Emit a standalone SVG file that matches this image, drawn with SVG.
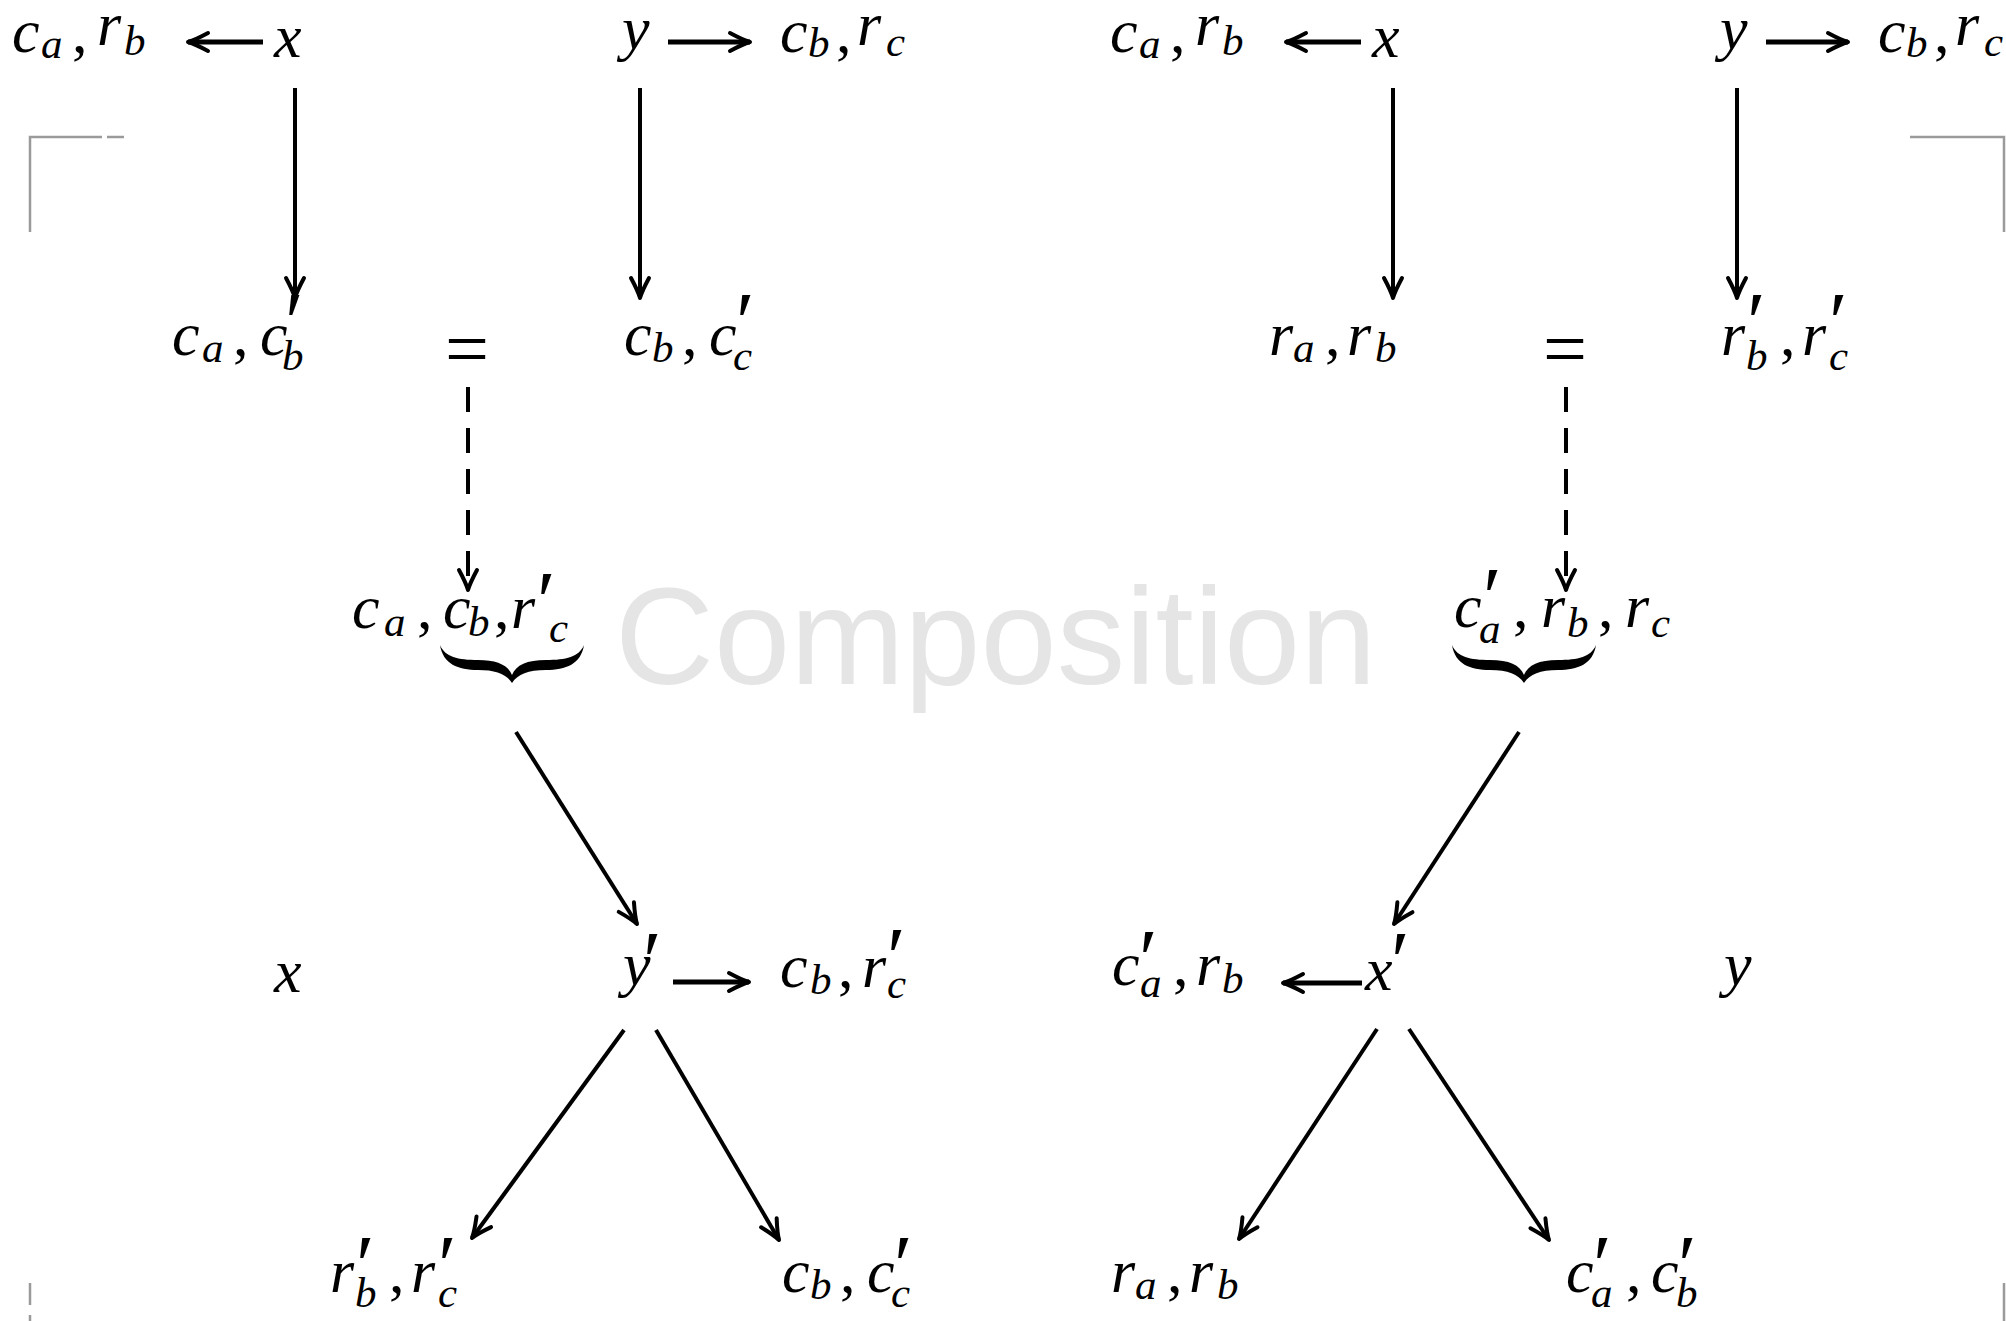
<svg xmlns="http://www.w3.org/2000/svg" width="2006" height="1321" viewBox="0 0 2006 1321">
<style>
.s{font-size:43px}
.u{font-style:normal}
.p{font-style:normal;font-size:85px}
.c line{stroke:#000;stroke-width:4;marker-end:url(#arr)}
.c .h{stroke-width:5}
.c .d{stroke-dasharray:25 16}
.g path{fill:none;stroke:#9a9a9a;stroke-width:2.5}
.br{fill:#000}
</style>
<defs>
<marker id="arr" markerUnits="userSpaceOnUse" markerWidth="28" markerHeight="24" viewBox="-24 -12 28 24" refX="0" refY="0" orient="auto" overflow="visible">
<path d="M-20,-9 Q-7,-2 0,0 Q-7,2 -20,9" fill="none" stroke="#000" stroke-width="4" stroke-linecap="round" stroke-linejoin="round"/>
</marker>
<path id="brace" d="M440,645 C443,664 458,670 478,670 C496,670 506,674 512,683 C518,674 528,670 546,670 C566,670 581,664 584,645 C579,657 566,660 546,660 C527,660 516,665 512,675 C508,665 497,660 478,660 C458,660 445,657 440,645 Z"/>
</defs>
<rect width="2006" height="1321" fill="#fff"/>
<text id="watermark" x="615" y="684" font-family="Liberation Sans" font-size="137" fill="#e5e5e5">Composition</text>
<g class="g" id="marks">
<path d="M30,232 V137 H102 M107,137 H124"/>
<path d="M1910,137 H2004 V232"/>
<path d="M30,1283 V1305 M30,1315 V1321"/>
<path d="M2004,1283 V1321"/>
</g>
<g class="c" id="connectors">
<line class="h" x1="263" y1="42" x2="188" y2="42"/>
<line class="h" x1="668" y1="42" x2="750" y2="42"/>
<line class="h" x1="1361" y1="42" x2="1286" y2="42"/>
<line class="h" x1="1766" y1="42" x2="1848" y2="42"/>
<line x1="295" y1="88" x2="295" y2="298"/>
<line x1="640" y1="88" x2="640" y2="298"/>
<line x1="1393" y1="88" x2="1393" y2="298"/>
<line x1="1737" y1="88" x2="1737" y2="298"/>
<line class="d" x1="468" y1="387" x2="468" y2="590"/>
<line class="d" x1="1566" y1="387" x2="1566" y2="590"/>
<line x1="516" y1="732" x2="637" y2="924"/>
<line x1="1519" y1="732" x2="1394" y2="924"/>
<line class="h" x1="673" y1="982" x2="749" y2="982"/>
<line class="h" x1="1362" y1="983" x2="1283" y2="983"/>
<line x1="624" y1="1030" x2="472" y2="1238"/>
<line x1="656" y1="1030" x2="779" y2="1240"/>
<line x1="1377" y1="1029" x2="1239" y2="1239"/>
<line x1="1409" y1="1029" x2="1549" y2="1240"/>
</g>
<g id="nodes">
<g id="L-ca-rb-top"><text font-family="Liberation Serif" font-style="italic" font-size="62"><tspan x="12" y="52">c</tspan><tspan class="s" x="41" y="58">a</tspan><tspan class="u" x="72" y="52">,</tspan><tspan x="97" y="45">r</tspan><tspan class="s" x="124" y="55">b</tspan></text></g>
<g id="L-x-top"><text font-family="Liberation Serif" font-style="italic" font-size="62" x="274" y="57">x</text></g>
<g id="L-y-top"><text font-family="Liberation Serif" font-style="italic" font-size="62" x="622" y="49">y</text></g>
<g id="L-cb-rc-top"><text font-family="Liberation Serif" font-style="italic" font-size="62"><tspan x="780" y="52">c</tspan><tspan class="s" x="808" y="57">b</tspan><tspan class="u" x="836" y="52">,</tspan><tspan x="857" y="45">r</tspan><tspan class="s" x="886" y="56">c</tspan></text></g>
<g id="R-ca-rb-top"><text font-family="Liberation Serif" font-style="italic" font-size="62"><tspan x="1110" y="52">c</tspan><tspan class="s" x="1139" y="58">a</tspan><tspan class="u" x="1170" y="52">,</tspan><tspan x="1195" y="45">r</tspan><tspan class="s" x="1222" y="55">b</tspan></text></g>
<g id="R-x-top"><text font-family="Liberation Serif" font-style="italic" font-size="62" x="1372" y="57">x</text></g>
<g id="R-y-top"><text font-family="Liberation Serif" font-style="italic" font-size="62" x="1720" y="49">y</text></g>
<g id="R-cb-rc-top"><text font-family="Liberation Serif" font-style="italic" font-size="62"><tspan x="1878" y="52">c</tspan><tspan class="s" x="1906" y="57">b</tspan><tspan class="u" x="1934" y="52">,</tspan><tspan x="1955" y="45">r</tspan><tspan class="s" x="1984" y="56">c</tspan></text></g>
<g id="L-ca-cb1"><text font-family="Liberation Serif" font-style="italic" font-size="62"><tspan x="172" y="355">c</tspan><tspan class="s" x="202" y="362">a</tspan><tspan class="u" x="233" y="355">,</tspan><tspan x="260" y="355">c</tspan><tspan class="p" x="285" y="351">′</tspan><tspan class="s" x="282" y="370">b</tspan></text></g>
<g id="L-eq"><text font-family="Liberation Serif" x="467" y="375" font-size="78" text-anchor="middle">=</text></g>
<g id="L-cb-cc1"><text font-family="Liberation Serif" font-style="italic" font-size="62"><tspan x="624" y="355">c</tspan><tspan class="s" x="652" y="362">b</tspan><tspan class="u" x="682" y="355">,</tspan><tspan x="709" y="355">c</tspan><tspan class="p" x="736" y="351">′</tspan><tspan class="s" x="733" y="370">c</tspan></text></g>
<g id="R-ra-rb"><text font-family="Liberation Serif" font-style="italic" font-size="62"><tspan x="1269" y="355">r</tspan><tspan class="s" x="1293" y="362">a</tspan><tspan class="u" x="1325" y="355">,</tspan><tspan x="1347" y="355">r</tspan><tspan class="s" x="1375" y="362">b</tspan></text></g>
<g id="R-eq"><text font-family="Liberation Serif" x="1565" y="375" font-size="78" text-anchor="middle">=</text></g>
<g id="R-rb1-rc1"><text font-family="Liberation Serif" font-style="italic" font-size="62"><tspan x="1721" y="355">r</tspan><tspan class="p" x="1747" y="351">′</tspan><tspan class="s" x="1746" y="370">b</tspan><tspan class="u" x="1780" y="355">,</tspan><tspan x="1802" y="355">r</tspan><tspan class="p" x="1829" y="351">′</tspan><tspan class="s" x="1829" y="370">c</tspan></text></g>
<g id="L-ca-cb-rc1"><text font-family="Liberation Serif" font-style="italic" font-size="62"><tspan x="352" y="628">c</tspan><tspan class="s" x="384" y="636">a</tspan><tspan class="u" x="417" y="628">,</tspan><tspan x="443" y="628">c</tspan><tspan class="s" x="468" y="636">b</tspan><tspan class="u" x="494" y="628">,</tspan><tspan x="511" y="628">r</tspan><tspan class="p" x="537" y="630">′</tspan><tspan class="s" x="549" y="642">c</tspan></text>
<use href="#brace" class="br"/></g>
<g id="R-ca1-rb-rc"><text font-family="Liberation Serif" font-style="italic" font-size="62"><tspan x="1454" y="627">c</tspan><tspan class="p" x="1483" y="626">′</tspan><tspan class="s" x="1479" y="643">a</tspan><tspan class="u" x="1513" y="627">,</tspan><tspan x="1541" y="627">r</tspan><tspan class="s" x="1567" y="637">b</tspan><tspan class="u" x="1598" y="627">,</tspan><tspan x="1625" y="627">r</tspan><tspan class="s" x="1651" y="637">c</tspan></text>
<use href="#brace" class="br" transform="translate(1012,0)"/></g>
<g id="L-x-mid"><text font-family="Liberation Serif" font-style="italic" font-size="62" x="274" y="992">x</text></g>
<g id="L-y1"><text font-family="Liberation Serif" font-style="italic" font-size="62"><tspan x="623" y="985">y</tspan><tspan class="p" x="643" y="990">′</tspan></text></g>
<g id="L-cb-rc1"><text font-family="Liberation Serif" font-style="italic" font-size="62"><tspan x="780" y="987">c</tspan><tspan class="s" x="810" y="994">b</tspan><tspan class="u" x="838" y="987">,</tspan><tspan x="862" y="987">r</tspan><tspan class="p" x="887" y="986">′</tspan><tspan class="s" x="887" y="998">c</tspan></text></g>
<g id="R-ca1-rb"><text font-family="Liberation Serif" font-style="italic" font-size="62"><tspan x="1112" y="985">c</tspan><tspan class="p" x="1139" y="988">′</tspan><tspan class="s" x="1140" y="997">a</tspan><tspan class="u" x="1173" y="985">,</tspan><tspan x="1196" y="985">r</tspan><tspan class="s" x="1222" y="993">b</tspan></text></g>
<g id="R-x1"><text font-family="Liberation Serif" font-style="italic" font-size="62"><tspan x="1365" y="990">x</tspan><tspan class="p" x="1391" y="990">′</tspan></text></g>
<g id="R-y-mid"><text font-family="Liberation Serif" font-style="italic" font-size="62" x="1724" y="985">y</text></g>
<g id="L-rb1-rc1"><text font-family="Liberation Serif" font-style="italic" font-size="62"><tspan x="330" y="1292">r</tspan><tspan class="p" x="356" y="1294">′</tspan><tspan class="s" x="355" y="1307">b</tspan><tspan class="u" x="389" y="1292">,</tspan><tspan x="411" y="1292">r</tspan><tspan class="p" x="438" y="1294">′</tspan><tspan class="s" x="438" y="1307">c</tspan></text></g>
<g id="L-cb-cc1-bot"><text font-family="Liberation Serif" font-style="italic" font-size="62"><tspan x="782" y="1292">c</tspan><tspan class="s" x="810" y="1299">b</tspan><tspan class="u" x="840" y="1292">,</tspan><tspan x="867" y="1292">c</tspan><tspan class="p" x="894" y="1294">′</tspan><tspan class="s" x="891" y="1307">c</tspan></text></g>
<g id="R-ra-rb-bot"><text font-family="Liberation Serif" font-style="italic" font-size="62"><tspan x="1111" y="1292">r</tspan><tspan class="s" x="1135" y="1299">a</tspan><tspan class="u" x="1167" y="1292">,</tspan><tspan x="1189" y="1292">r</tspan><tspan class="s" x="1217" y="1299">b</tspan></text></g>
<g id="R-ca1-cb1"><text font-family="Liberation Serif" font-style="italic" font-size="62"><tspan x="1566" y="1292">c</tspan><tspan class="p" x="1593" y="1294">′</tspan><tspan class="s" x="1591" y="1307">a</tspan><tspan class="u" x="1626" y="1292">,</tspan><tspan x="1651" y="1292">c</tspan><tspan class="p" x="1678" y="1294">′</tspan><tspan class="s" x="1676" y="1307">b</tspan></text></g>
</g>
</svg>
